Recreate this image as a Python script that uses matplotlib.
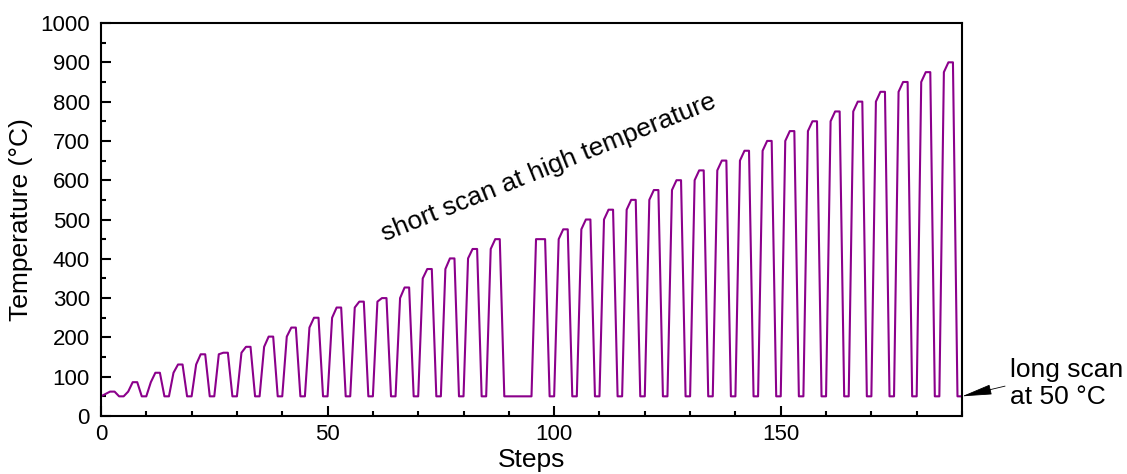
import matplotlib.pyplot as plt
from matplotlib.ticker import MultipleLocator

plt.rcParams["font.family"] = ["Liberation Sans", "DejaVu Sans"]

# inicio de cada ciclo (paso), temperatura intermedia y temperatura maxima
cycle_start = [0, 5, 10, 15, 20, 25, 30, 35, 40, 45, 50, 55, 60, 65, 70, 75, 80, 85,
               95, 100, 105, 110, 115, 120, 125, 130, 135, 140, 145, 150, 155, 160,
               165, 170, 175, 180, 185]
ramp_temp = [56, 62, 86, 110, 131, 157, 161, 176, 202, 225, 250, 276, 291, 300, 350,
             374, 401, 425,
             450, 450, 475, 500, 525, 550, 575, 600, 625, 650, 675, 700, 725, 750,
             775, 800, 825, 850, 875]
peak_temp = [62, 86, 110, 131, 157, 161, 176, 202, 225, 250, 276, 291, 300, 327, 374,
             401, 425, 450,
             450, 475, 500, 525, 550, 575, 600, 625, 650, 675, 700, 725, 750, 775,
             800, 825, 850, 875, 900]
base_temp = 50
last_step = 190

# armar la curva
xs, ys = [], []
for k, r, t in zip(cycle_start, ramp_temp, peak_temp):
    xs += [k, k + 1, k + 2, k + 3, k + 4]
    ys += [base_temp, r, t, t, base_temp]
xs.append(last_step)
ys.append(base_temp)

fig = plt.figure(figsize=(11.27, 4.74), dpi=100)
ax = fig.add_axes([0.0896, 0.1224, 0.764, 0.829])
ax.plot(xs, ys, color="#8B008B", lw=1.5)

ax.set_xlim(0, 190)
ax.set_ylim(0, 1000)
ax.xaxis.set_major_locator(MultipleLocator(50))
ax.xaxis.set_minor_locator(MultipleLocator(10))
ax.yaxis.set_major_locator(MultipleLocator(100))
ax.yaxis.set_minor_locator(MultipleLocator(50))
ax.tick_params(which="both", direction="in", width=1.5, labelsize=16)
ax.tick_params(which="major", length=7)
ax.tick_params(which="minor", length=3.5)
ax.tick_params(axis="x", pad=6)
ax.tick_params(axis="y", pad=8)
for s in ax.spines.values():
    s.set_linewidth(1.5)

ax.set_xlabel("Steps", fontsize=19, labelpad=2)
ax.set_ylabel("Temperature (°C)", fontsize=19, labelpad=5)

ax.text(98.7, 631, "short scan at high temperature", fontsize=19,
        rotation=22, ha="center", va="center", rotation_mode="anchor")

ax.annotate("", xy=(last_step, base_temp), xytext=(1.05, 0.076),
            xycoords="data", textcoords="axes fraction",
            arrowprops=dict(arrowstyle="-|>,head_length=1.9,head_width=0.32",
                            mutation_scale=10, color="black", lw=0.6,
                            shrinkA=0, shrinkB=0),
            annotation_clip=False)
fig.text(0.896, 0.191, "long scan\nat 50 °C", fontsize=19, ha="left", va="center")

fig.savefig("out.png", dpi=100)
